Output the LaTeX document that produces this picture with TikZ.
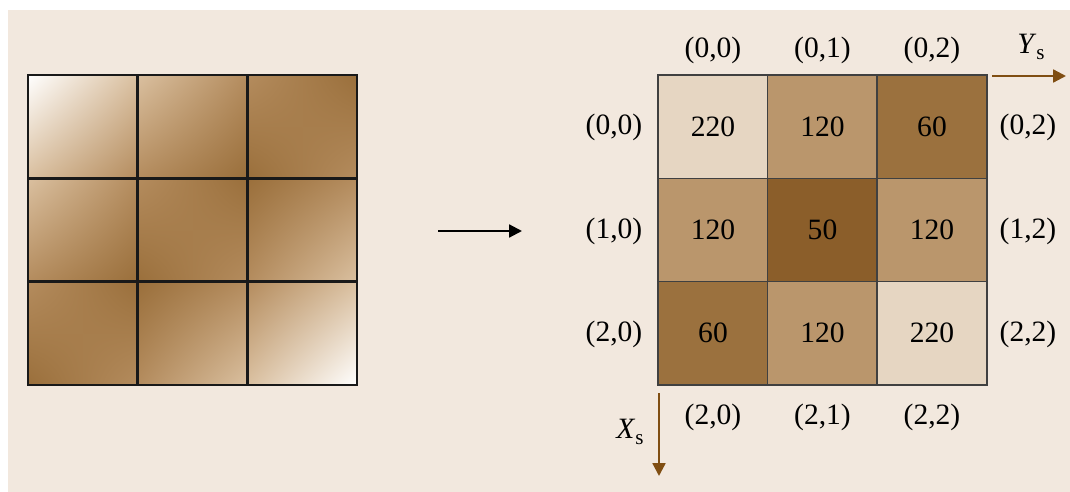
\documentclass[tikz,border=0pt]{standalone}
\usepackage{fontspec}
\setmainfont{Liberation Serif}
\usetikzlibrary{positioning}
\usetikzlibrary{arrows.meta}
\usetikzlibrary{shadings}
\definecolor{panel}{RGB}{242,232,222}
\definecolor{light}{RGB}{230,214,194}
\definecolor{mid}{RGB}{186,150,108}
\definecolor{dark}{RGB}{155,113,62}
\definecolor{darkest}{RGB}{139,94,42}
\definecolor{axis}{RGB}{128,78,18}
\definecolor{lc0}{RGB}{255,255,255}
\definecolor{lc1}{RGB}{218,192,160}
\definecolor{lc2}{RGB}{180,140,94}
\definecolor{lc3}{RGB}{154,111,59}
\definecolor{lc4}{RGB}{180,140,94}
\definecolor{lc5}{RGB}{218,192,160}
\definecolor{lc6}{RGB}{255,255,255}
\newcommand{\Xs}{\textit{X}\raisebox{-0.5ex}{\fontsize{15}{17}\selectfont s}}
\newcommand{\Ys}{\textit{Y}\raisebox{-0.5ex}{\fontsize{15}{17}\selectfont s}}

\begin{document}
\begin{tikzpicture}[x=0.025cm, y=-0.025cm, every node/.style={font=\fontsize{21}{25}\selectfont},
    cell/.style={draw=black!75, line width=1.1pt, minimum width=2.74cm, minimum height=2.58cm, inner sep=0pt},
    idx/.style={inner sep=0pt},
    axisarrow/.style={draw=axis, line width=1.6pt, -{Triangle[length=3.2mm,width=3.2mm]}}]
    \useasboundingbox (0,0) rectangle (1070,492);
    \fill[panel] (8,10) rectangle (1070,492);

    % image: shaded 3x3 block
    \foreach \i in {0,1,2}{
      \foreach \j in {0,1,2}{
        \pgfmathtruncatemacro\u{\i+\j}
        \pgfmathtruncatemacro\v{\i+\j+1}
        \pgfmathtruncatemacro\w{\i+\j+2}
        \shade[upper left=lc\u, upper right=lc\v, lower left=lc\v, lower right=lc\w]
          ({28+109.67*\j},{75+103.33*\i}) rectangle ({28+109.67*(\j+1)},{75+103.33*(\i+1)});
      }
    }
    \draw[line width=2pt, black!90] (28,75) rectangle (357,385);
    \foreach \k in {1,2}{
      \draw[line width=2pt, black!90] ({28+109.67*\k},75) -- ({28+109.67*\k},385);
      \draw[line width=2pt, black!90] (28,{75+103.33*\k}) -- (357,{75+103.33*\k});
    }

    \coordinate (a1) at (438,231);
    \coordinate (a2) at (522,231);
    \draw[line width=1.5pt, -{Triangle[length=3.2mm,width=3.2mm]}] (a1) -- (a2);

    % matrix of values
    \node[cell, fill=light]   (c00) at (713,126.7) {220};
    \node[cell, fill=mid]     (c01) at (822.5,126.7) {120};
    \node[cell, fill=dark]    (c02) at (932,126.7) {60};
    \node[cell, fill=mid]     (c10) at (713,230) {120};
    \node[cell, fill=darkest] (c11) at (822.5,230) {50};
    \node[cell, fill=mid]     (c12) at (932,230) {120};
    \node[cell, fill=dark]    (c20) at (713,333.3) {60};
    \node[cell, fill=mid]     (c21) at (822.5,333.3) {120};
    \node[cell, fill=light]   (c22) at (932,333.3) {220};

    \node[idx] (t0) at (713,50) {(0,0)};
    \node[idx] (t1) at (822.5,50) {(0,1)};
    \node[idx] (t2) at (932,50) {(0,2)};
    \node[idx] (b0) at (713,417) {(2,0)};
    \node[idx] (b1) at (822.5,417) {(2,1)};
    \node[idx] (b2) at (932,417) {(2,2)};
    \node[idx] (l0) at (614,127) {(0,0)};
    \node[idx] (l1) at (614,231) {(1,0)};
    \node[idx] (l2) at (614,334) {(2,0)};
    \node[idx] (r0) at (1028,127) {(0,2)};
    \node[idx] (r1) at (1028,231) {(1,2)};
    \node[idx] (r2) at (1028,334) {(2,2)};

    \coordinate (ys0) at (992,76);
    \coordinate (ys1) at (1066,76);
    \coordinate (xs0) at (659,393);
    \coordinate (xs1) at (659,476);
    \draw[axisarrow] (ys0) -- (ys1);
    \draw[axisarrow] (xs0) -- (xs1);
    \node[idx] (ys) at (1031,47) {\Ys};
    \node[idx] (xs) at (630,432) {\Xs};
\end{tikzpicture}
\end{document}
